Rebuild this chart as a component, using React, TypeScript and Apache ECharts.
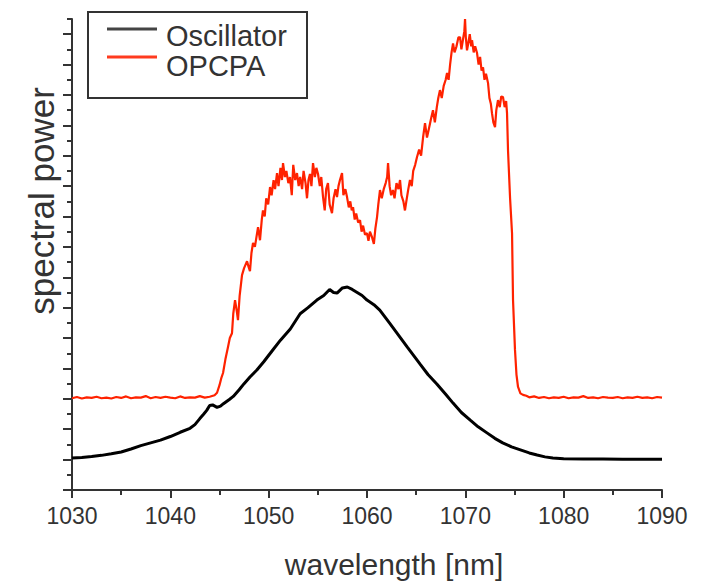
import React, { useEffect, useRef } from "react";
import * as echarts from "echarts";

// OPCPA spectrum (wavelength in nm, power in arbitrary units)
const opcpaWavelength = [
  1030, 1030.5, 1031, 1031.5, 1032, 1032.5, 1033, 1033.5, 1034, 1034.5, 1035, 1035.5, 1036, 1036.5, 1037, 1037.5,
  1038, 1038.5, 1039, 1039.5, 1040, 1040.5, 1041, 1041.5, 1042, 1042.5, 1043, 1043.5, 1044, 1044.5,
  1044.75, 1045.0, 1045.2, 1045.36, 1045.6, 1045.86, 1046.05, 1046.27, 1046.4, 1046.58, 1046.75, 1046.88, 1047.05,
  1047.29, 1047.5, 1047.8, 1047.95, 1048.1, 1048.25, 1048.41, 1048.6, 1048.92, 1049.12, 1049.3, 1049.42, 1049.6,
  1049.75, 1049.95, 1050.14, 1050.3, 1050.5, 1050.65, 1050.85, 1051.0, 1051.2, 1051.35, 1051.46, 1051.65, 1051.8,
  1052.0, 1052.17, 1052.35, 1052.5, 1052.7, 1052.88, 1053.05, 1053.2, 1053.4, 1053.55, 1053.75, 1053.9, 1054.05,
  1054.2, 1054.35, 1054.51, 1054.7, 1054.85, 1055.02, 1055.2, 1055.35, 1055.53, 1055.7, 1055.85, 1056.03, 1056.2,
  1056.44, 1056.6, 1056.8, 1056.95, 1057.1, 1057.25, 1057.46, 1057.6, 1057.8, 1057.97, 1058.15, 1058.3, 1058.45,
  1058.58, 1058.75, 1058.9, 1059.1, 1059.29, 1059.45, 1059.6, 1059.8, 1060.0, 1060.15, 1060.3, 1060.51, 1060.7,
  1060.85, 1061.02, 1061.15, 1061.32, 1061.5, 1061.7, 1061.9, 1062.05, 1062.14, 1062.3, 1062.45, 1062.64, 1062.8,
  1063.0, 1063.2, 1063.36, 1063.5, 1063.7, 1063.86, 1064.0, 1064.2, 1064.37, 1064.55, 1064.7, 1064.9, 1065.08,
  1065.3, 1065.5, 1065.7, 1065.9, 1066.1, 1066.3, 1066.5, 1066.71, 1066.9, 1067.1, 1067.25, 1067.42, 1067.6, 1067.8,
  1068.0, 1068.14, 1068.3, 1068.45, 1068.6, 1068.75, 1068.9, 1069.1, 1069.3, 1069.46, 1069.6, 1069.75, 1069.9,
  1069.97, 1070.05, 1070.17, 1070.3, 1070.45, 1070.6, 1070.68, 1070.85, 1071.0, 1071.19, 1071.35, 1071.5, 1071.65,
  1071.8, 1071.95, 1072.1, 1072.31, 1072.45, 1072.6, 1072.71, 1072.85, 1073.02, 1073.15, 1073.32, 1073.5, 1073.65,
  1073.83, 1074.0, 1074.15, 1074.24, 1074.34, 1074.55, 1074.75, 1074.85, 1075.05, 1075.2, 1075.36, 1075.6, 1075.87,
  1076.2, 1076.5, 1077, 1077.5, 1078, 1078.5, 1079, 1079.5, 1080, 1080.5, 1081, 1081.5, 1082, 1082.5, 1083, 1083.5,
  1084, 1084.5, 1085, 1085.5, 1086, 1086.5, 1087, 1087.5, 1088, 1088.5, 1089, 1089.5, 1090,
];
const opcpaPower = [
  3.02, 3.06, 3.01, 3.05, 3.03, 3.07, 3.02, 3.04, 3.01, 3.06, 3.03, 3.08, 3.02, 3.05, 3.04, 3.09,
  3.02, 3.06, 3.03, 3.07, 3.04, 3.02, 3.08, 3.03, 3.05, 3.04, 3.09, 3.04, 3.07, 3.12,
  3.2, 3.45, 3.7, 3.85, 4.3, 4.7, 5.0, 5.16, 5.8, 6.25, 5.9, 5.59, 6.4,
  7.07, 7.3, 7.53, 7.35, 7.2, 7.8, 8.13, 8.0, 8.65, 8.22, 8.9, 9.2, 9.0,
  9.6, 9.4, 9.97, 9.7, 10.2, 9.9, 10.43, 10.0, 10.6, 10.2, 10.76, 10.3, 10.5,
  10.1, 10.3, 9.7, 10.7, 10.2, 10.43, 10.0, 10.3, 9.9, 10.5, 10.1, 9.6, 10.2,
  10.4, 10.0, 10.76, 10.3, 10.6, 10.4, 10.0, 10.3, 9.64, 9.2, 9.9, 10.1, 9.4,
  9.11, 9.6, 9.9, 9.64, 10.0, 10.2, 10.43, 9.7, 9.9, 9.64, 9.3, 9.5, 9.2,
  9.31, 8.9, 9.1, 8.8, 8.88, 8.5, 8.7, 8.4, 8.45, 8.2, 8.5, 8.32, 8.1,
  8.6, 8.98, 9.4, 9.87, 9.6, 9.9, 10.1, 10.3, 10.76, 10.0, 9.7, 9.87, 9.6,
  10.1, 9.9, 10.2, 9.7, 9.5, 9.2, 9.5, 9.9, 10.2, 10.0, 10.5, 10.7, 10.95,
  11.2, 11.0, 11.6, 12.07, 11.6, 11.9, 12.2, 12.5, 12.1, 12.6, 12.9, 13.16, 12.9, 13.3,
  13.5, 13.72, 13.5, 14.0, 14.4, 14.7, 14.4, 14.6, 14.9, 14.9, 14.5, 14.8, 15.1,
  15.5, 14.9, 14.47, 14.7, 15.0, 14.6, 14.8, 14.4, 14.6, 14.38, 14.0, 14.25, 13.8,
  13.91, 13.5, 13.7, 13.39, 12.9, 12.7, 12.4, 12.1, 11.94, 12.5, 12.83, 12.6, 12.95,
  12.93, 12.6, 12.8, 12.4, 11.18, 9.6, 8.45, 6.25, 4.61, 3.8, 3.39, 3.18, 3.13,
  3.1, 3.05, 3.08, 3.03, 3.06, 3.02, 3.05, 3.03, 3.07, 3.02, 3.05, 3.04, 3.09, 3.03, 3.05, 3.02,
  3.06, 3.04, 3.03, 3.06, 3.02, 3.05, 3.03, 3.07, 3.03, 3.05, 3.02, 3.06, 3.04,
];

// Oscillator spectrum
const oscWavelength = [
  1030, 1031, 1032, 1033, 1034, 1035, 1036, 1037, 1038, 1039, 1040, 1041, 1042, 1042.5, 1043, 1043.4, 1043.7,
  1044.0, 1044.3, 1044.75, 1045.1, 1045.4, 1046, 1046.4, 1047, 1047.5, 1048.1, 1048.8, 1049.5, 1050.4, 1051.2,
  1052.2, 1053.2, 1054, 1054.9, 1055.6, 1056.2, 1056.6, 1056.95, 1057.5, 1058.0, 1058.5, 1059.0, 1059.5, 1060.0,
  1060.7, 1061.3, 1062.3, 1063.2, 1064.1, 1065.4, 1066.2, 1067.1, 1068, 1068.75, 1069.6, 1070.5, 1071.3, 1072.2,
  1073, 1073.8, 1074.7, 1075.6, 1076.5, 1077.3, 1078.1, 1078.9, 1080, 1082, 1084, 1086, 1088, 1090,
];
const oscPower = [
  1.05, 1.07, 1.1, 1.14, 1.19, 1.25, 1.35, 1.46, 1.55, 1.64, 1.76, 1.9, 2.03, 2.15, 2.35, 2.5, 2.62,
  2.78, 2.8, 2.72, 2.76, 2.84, 2.98, 3.08, 3.3, 3.5, 3.72, 3.95, 4.22, 4.6, 4.93,
  5.3, 5.8, 6.0, 6.25, 6.4, 6.6, 6.5, 6.48, 6.65, 6.68, 6.6, 6.5, 6.4, 6.25,
  6.1, 5.92, 5.49, 5.1, 4.7, 4.14, 3.8, 3.49, 3.15, 2.86, 2.55, 2.3, 2.08, 1.88,
  1.7, 1.55, 1.42, 1.32, 1.22, 1.15, 1.09, 1.05, 1.03, 1.02, 1.02, 1.01, 1.01, 1.01,
];

const majorYTicks = [0, 1, 2, 3, 4, 5, 6, 7, 8, 9, 10, 11, 12, 13, 14, 15];
const seriesNames = ["Oscillator", "OPCPA"];
const seriesColors = ["#000000", "#ff2200"];

const FONT = "'Liberation Sans', Arial, Helvetica, sans-serif";
const AXIS = "#333333";

export default function App() {
  const ref = useRef<HTMLDivElement>(null);

  useEffect(() => {
    if (!ref.current) return;
    const chart = echarts.init(ref.current, undefined, { renderer: "svg" });
    const opcpaData = opcpaWavelength.map((w, i) => [w, opcpaPower[i]]);
    const oscData = oscWavelength.map((w, i) => [w, oscPower[i]]);

    const yCommon = {
      type: "value",
      min: 0,
      max: 15.5,
      interval: 0.5,
      position: "left",
      axisLabel: { show: false },
      splitLine: { show: false },
    };

    const legendGraphics: any[] = [
      {
        type: "rect",
        shape: { x: 88, y: 12, width: 219, height: 86 },
        style: { fill: "#ffffff", stroke: AXIS, lineWidth: 2 },
        z: 10,
      },
    ];
    seriesNames.forEach((name, i) => {
      const lineY = 29 + i * 28;
      const textY = 36 + i * 29.5;
      legendGraphics.push({
        type: "line",
        shape: { x1: 107, y1: lineY, x2: 157, y2: lineY },
        style: { stroke: i === 0 ? "#444444" : "#ff3b1f", lineWidth: 3 },
        z: 11,
      });
      legendGraphics.push({
        type: "text",
        x: 166,
        y: textY,
        style: {
          text: name,
          fontSize: 29,
          fontFamily: FONT,
          fill: AXIS,
          align: "left",
          verticalAlign: "middle",
        },
        z: 11,
      });
    });

    chart.setOption({
      animation: false,
      backgroundColor: "#ffffff",
      textStyle: { fontFamily: FONT },
      grid: { left: 72, right: 63, top: 19, bottom: 91 },
      xAxis: {
        type: "value",
        min: 1030,
        max: 1090,
        interval: 10,
        axisLine: { lineStyle: { color: AXIS, width: 2 } },
        axisTick: { length: 8, lineStyle: { color: AXIS, width: 2 } },
        minorTick: { show: true, splitNumber: 2, length: 5, lineStyle: { color: AXIS, width: 2 } },
        splitLine: { show: false },
        minorSplitLine: { show: false },
        axisLabel: {
          fontSize: 23,
          color: AXIS,
          margin: 14,
          fontFamily: FONT,
          formatter: (v: number) => String(v),
        },
      },
      yAxis: [
        {
          ...yCommon,
          axisLine: { show: true, lineStyle: { color: AXIS, width: 2 } },
          axisTick: { show: true, length: 5, lineStyle: { color: AXIS, width: 2 } },
        },
        {
          ...yCommon,
          offset: 0,
          axisLine: { show: false },
          axisTick: { show: true, length: 9, customValues: majorYTicks, lineStyle: { color: AXIS, width: 2 } },
        },
      ],
      graphic: [
        ...legendGraphics,
        {
          type: "text",
          x: 394,
          y: 564,
          style: {
            text: "wavelength [nm]",
            fontSize: 30,
            fontFamily: FONT,
            fill: AXIS,
            align: "center",
            verticalAlign: "middle",
          },
        },
        {
          type: "text",
          x: 41,
          y: 201,
          rotation: Math.PI / 2,
          style: {
            text: "spectral power",
            fontSize: 35,
            fontFamily: FONT,
            fill: AXIS,
            align: "center",
            verticalAlign: "middle",
          },
        },
      ],
      series: [
        {
          name: seriesNames[0],
          type: "line",
          yAxisIndex: 0,
          data: oscData,
          symbol: "none",
          lineStyle: { color: seriesColors[0], width: 3 },
          itemStyle: { color: seriesColors[0] },
          z: 3,
        },
        {
          name: seriesNames[1],
          type: "line",
          yAxisIndex: 0,
          data: opcpaData,
          symbol: "none",
          lineStyle: { color: seriesColors[1], width: 2.2 },
          itemStyle: { color: seriesColors[1] },
          z: 2,
        },
      ],
    });

    return () => chart.dispose();
  }, []);

  return (
    <div
      ref={ref}
      style={{ position: "fixed", left: 0, top: 0, width: 725, height: 581 }}
    />
  );
}
